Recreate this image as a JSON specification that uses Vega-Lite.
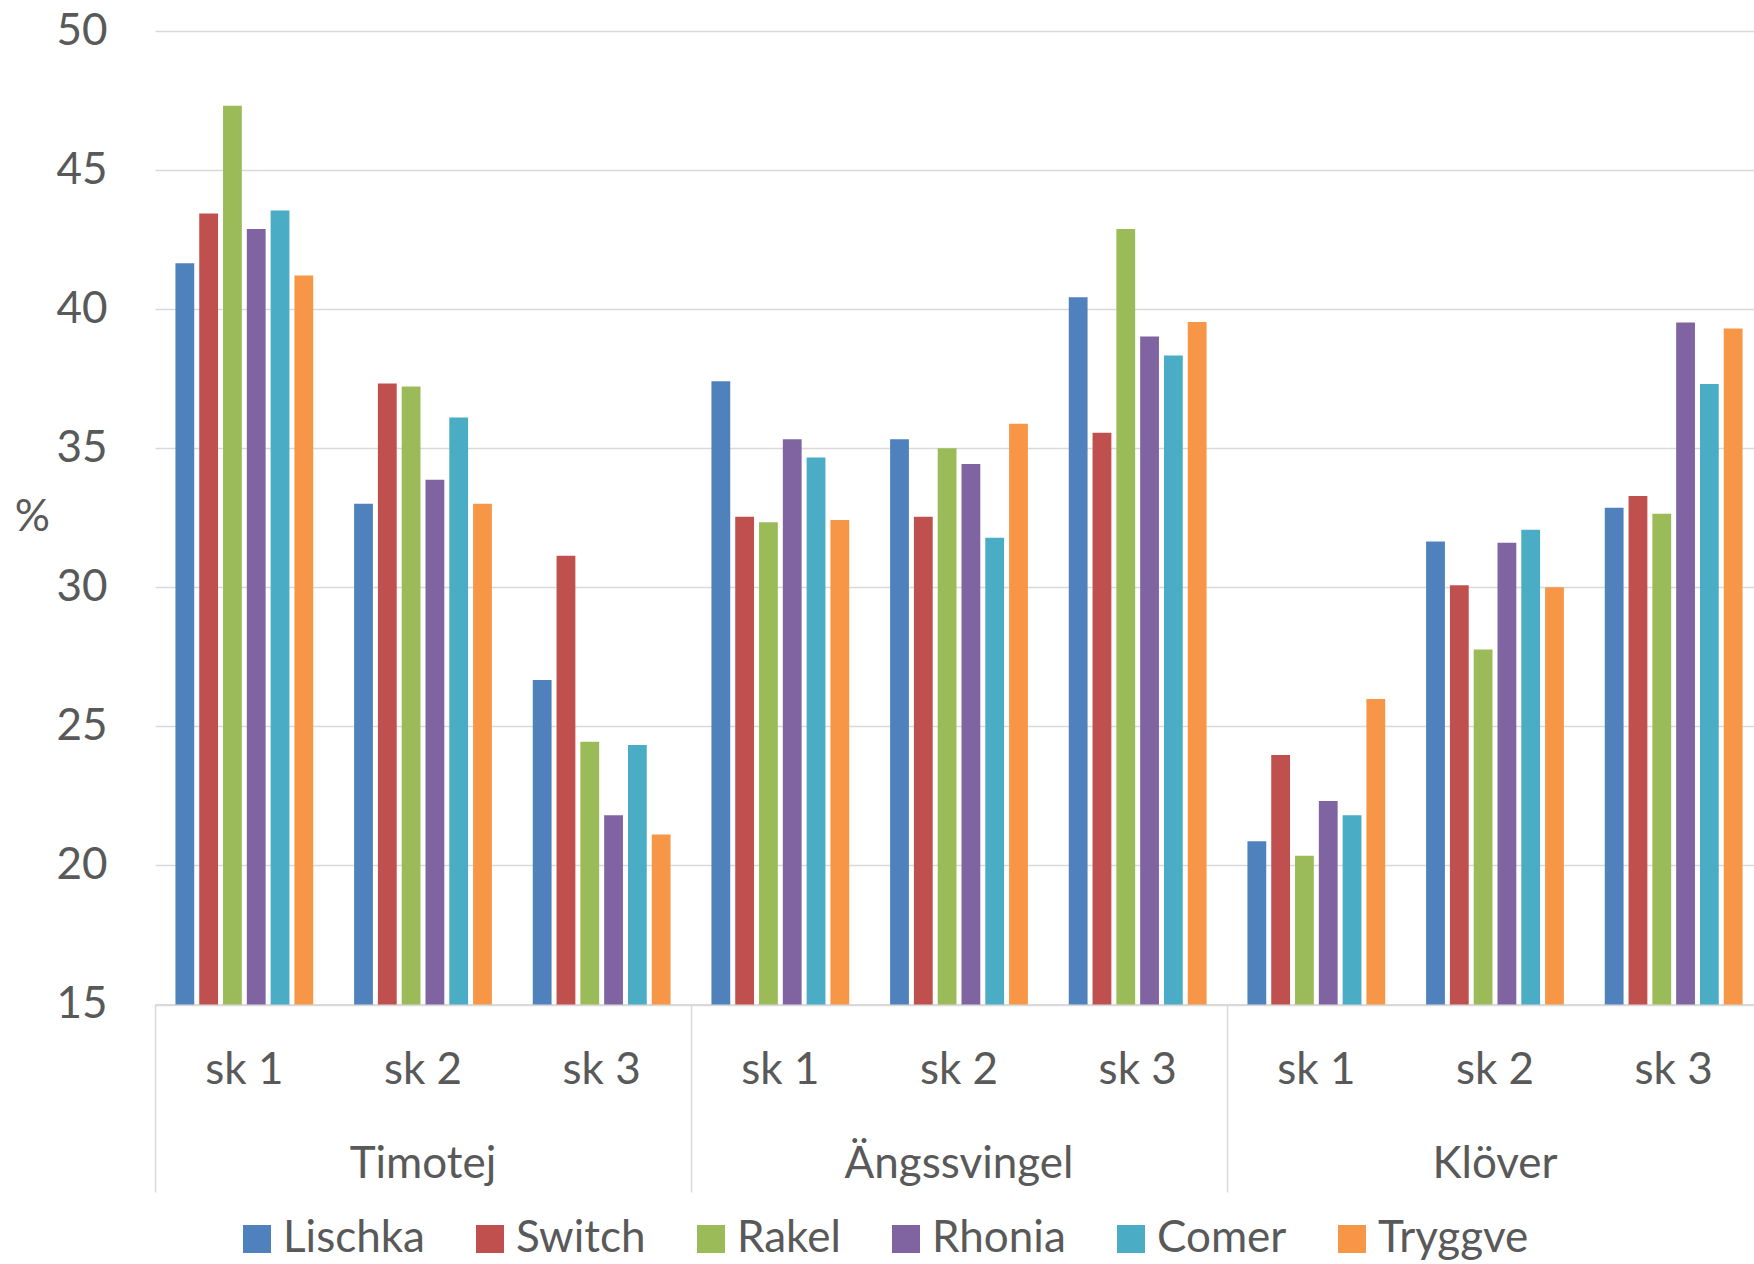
{
  "$schema": "https://vega.github.io/schema/vega-lite/v6.json",
  "width": 1608,
  "height": 973.5,
  "autosize": {"type": "none"},
  "padding": {"left": 155, "top": 31, "right": -9, "bottom": 259.5},
  "background": "white",
  "config": {
    "font": "Lato",
    "view": {"stroke": null},
    "axis": {"labelFont": "Lato", "titleFont": "Lato", "labelColor": "#595959", "titleColor": "#595959"}
  },
  "data": {
    "values": [
      {"group": "Timotej", "key": "Timotej|sk 1", "variety": "Lischka", "value": 41.65},
      {"group": "Timotej", "key": "Timotej|sk 1", "variety": "Switch", "value": 43.44},
      {"group": "Timotej", "key": "Timotej|sk 1", "variety": "Rakel", "value": 47.31},
      {"group": "Timotej", "key": "Timotej|sk 1", "variety": "Rhonia", "value": 42.88},
      {"group": "Timotej", "key": "Timotej|sk 1", "variety": "Comer", "value": 43.55},
      {"group": "Timotej", "key": "Timotej|sk 1", "variety": "Tryggve", "value": 41.21},
      {"group": "Timotej", "key": "Timotej|sk 2", "variety": "Lischka", "value": 33.0},
      {"group": "Timotej", "key": "Timotej|sk 2", "variety": "Switch", "value": 37.33},
      {"group": "Timotej", "key": "Timotej|sk 2", "variety": "Rakel", "value": 37.22},
      {"group": "Timotej", "key": "Timotej|sk 2", "variety": "Rhonia", "value": 33.87},
      {"group": "Timotej", "key": "Timotej|sk 2", "variety": "Comer", "value": 36.1},
      {"group": "Timotej", "key": "Timotej|sk 2", "variety": "Tryggve", "value": 33.0},
      {"group": "Timotej", "key": "Timotej|sk 3", "variety": "Lischka", "value": 26.67},
      {"group": "Timotej", "key": "Timotej|sk 3", "variety": "Switch", "value": 31.13},
      {"group": "Timotej", "key": "Timotej|sk 3", "variety": "Rakel", "value": 24.45},
      {"group": "Timotej", "key": "Timotej|sk 3", "variety": "Rhonia", "value": 21.8},
      {"group": "Timotej", "key": "Timotej|sk 3", "variety": "Comer", "value": 24.33},
      {"group": "Timotej", "key": "Timotej|sk 3", "variety": "Tryggve", "value": 21.11},
      {"group": "Ängssvingel", "key": "Ängssvingel|sk 1", "variety": "Lischka", "value": 37.41},
      {"group": "Ängssvingel", "key": "Ängssvingel|sk 1", "variety": "Switch", "value": 32.54},
      {"group": "Ängssvingel", "key": "Ängssvingel|sk 1", "variety": "Rakel", "value": 32.34},
      {"group": "Ängssvingel", "key": "Ängssvingel|sk 1", "variety": "Rhonia", "value": 35.32},
      {"group": "Ängssvingel", "key": "Ängssvingel|sk 1", "variety": "Comer", "value": 34.67},
      {"group": "Ängssvingel", "key": "Ängssvingel|sk 1", "variety": "Tryggve", "value": 32.42},
      {"group": "Ängssvingel", "key": "Ängssvingel|sk 2", "variety": "Lischka", "value": 35.32},
      {"group": "Ängssvingel", "key": "Ängssvingel|sk 2", "variety": "Switch", "value": 32.54},
      {"group": "Ängssvingel", "key": "Ängssvingel|sk 2", "variety": "Rakel", "value": 35.0},
      {"group": "Ängssvingel", "key": "Ängssvingel|sk 2", "variety": "Rhonia", "value": 34.43},
      {"group": "Ängssvingel", "key": "Ängssvingel|sk 2", "variety": "Comer", "value": 31.78},
      {"group": "Ängssvingel", "key": "Ängssvingel|sk 2", "variety": "Tryggve", "value": 35.88},
      {"group": "Ängssvingel", "key": "Ängssvingel|sk 3", "variety": "Lischka", "value": 40.43},
      {"group": "Ängssvingel", "key": "Ängssvingel|sk 3", "variety": "Switch", "value": 35.56},
      {"group": "Ängssvingel", "key": "Ängssvingel|sk 3", "variety": "Rakel", "value": 42.88},
      {"group": "Ängssvingel", "key": "Ängssvingel|sk 3", "variety": "Rhonia", "value": 39.02},
      {"group": "Ängssvingel", "key": "Ängssvingel|sk 3", "variety": "Comer", "value": 38.33},
      {"group": "Ängssvingel", "key": "Ängssvingel|sk 3", "variety": "Tryggve", "value": 39.54},
      {"group": "Klöver", "key": "Klöver|sk 1", "variety": "Lischka", "value": 20.87},
      {"group": "Klöver", "key": "Klöver|sk 1", "variety": "Switch", "value": 23.97},
      {"group": "Klöver", "key": "Klöver|sk 1", "variety": "Rakel", "value": 20.35},
      {"group": "Klöver", "key": "Klöver|sk 1", "variety": "Rhonia", "value": 22.32},
      {"group": "Klöver", "key": "Klöver|sk 1", "variety": "Comer", "value": 21.8},
      {"group": "Klöver", "key": "Klöver|sk 1", "variety": "Tryggve", "value": 25.98},
      {"group": "Klöver", "key": "Klöver|sk 2", "variety": "Lischka", "value": 31.65},
      {"group": "Klöver", "key": "Klöver|sk 2", "variety": "Switch", "value": 30.07},
      {"group": "Klöver", "key": "Klöver|sk 2", "variety": "Rakel", "value": 27.76},
      {"group": "Klöver", "key": "Klöver|sk 2", "variety": "Rhonia", "value": 31.6},
      {"group": "Klöver", "key": "Klöver|sk 2", "variety": "Comer", "value": 32.07},
      {"group": "Klöver", "key": "Klöver|sk 2", "variety": "Tryggve", "value": 30.0},
      {"group": "Klöver", "key": "Klöver|sk 3", "variety": "Lischka", "value": 32.86},
      {"group": "Klöver", "key": "Klöver|sk 3", "variety": "Switch", "value": 33.28},
      {"group": "Klöver", "key": "Klöver|sk 3", "variety": "Rakel", "value": 32.64},
      {"group": "Klöver", "key": "Klöver|sk 3", "variety": "Rhonia", "value": 39.52},
      {"group": "Klöver", "key": "Klöver|sk 3", "variety": "Comer", "value": 37.31},
      {"group": "Klöver", "key": "Klöver|sk 3", "variety": "Tryggve", "value": 39.3}
    ]
  },
  "layer": [
    {
      "mark": {"type": "bar"},
      "encoding": {
        "x": {
          "field": "key",
          "type": "nominal",
          "sort": null,
          "scale": {"paddingInner": 0, "paddingOuter": 0},
          "axis": {
            "orient": "bottom",
            "title": null,
            "labelAngle": 0,
            "labelExpr": "split(datum.label, '|')[1]",
            "labelFontSize": 44,
            "labelBaseline": "alphabetic",
            "labelPadding": 78.5,
            "ticks": false,
            "grid": false,
            "domainColor": "#d9d9d9",
            "domainWidth": 2
          }
        },
        "xOffset": {
          "field": "variety",
          "type": "nominal",
          "sort": ["Lischka", "Switch", "Rakel", "Rhonia", "Comer", "Tryggve"],
          "scale": {"paddingInner": 0.21, "paddingOuter": 0.859}
        },
        "y": {
          "field": "value",
          "type": "quantitative",
          "scale": {"domain": [15, 50], "zero": false, "nice": false},
          "axis": {
            "title": "%",
            "titleAngle": 0,
            "titleBaseline": "middle",
            "titleFontSize": 44,
            "titleFontWeight": "normal",
            "titlePadding": 24,
            "values": [15, 20, 25, 30, 35, 40, 45, 50],
            "labelFontSize": 44,
            "labelPadding": 48,
            "ticks": false,
            "domain": false,
            "gridColor": "#d9d9d9",
            "gridWidth": 1.5
          }
        },
        "y2": {"datum": 15},
        "color": {
          "field": "variety",
          "type": "nominal",
          "sort": ["Lischka", "Switch", "Rakel", "Rhonia", "Comer", "Tryggve"],
          "scale": {
            "domain": ["Lischka", "Switch", "Rakel", "Rhonia", "Comer", "Tryggve"],
            "range": ["#4F81BD", "#C0504D", "#9BBB59", "#8064A2", "#4BACC6", "#F79646"]
          },
          "legend": {
            "title": null,
            "orient": "none",
            "direction": "horizontal",
            "legendX": 80,
            "legendY": 1186,
            "padding": 0,
            "labelFont": "Lato",
            "labelFontSize": 44,
            "labelColor": "#595959",
            "symbolType": "square",
            "symbolSize": 784,
            "symbolStrokeWidth": 0,
            "symbolOpacity": 1,
            "labelOffset": 4,
            "columnPadding": 43
          }
        }
      }
    },
    {
      "mark": {"type": "bar", "opacity": 0},
      "encoding": {
        "x": {
          "field": "group",
          "type": "nominal",
          "sort": ["Timotej", "Ängssvingel", "Klöver"],
          "scale": {"paddingInner": 0, "paddingOuter": 0},
          "axis": {
            "orient": "bottom",
            "title": null,
            "labelAngle": 0,
            "labelFontSize": 44,
            "labelBaseline": "alphabetic",
            "labelAlign": "center",
            "labelLimit": 0,
            "bandPosition": 0,
            "labelPadding": -14.5,
            "ticks": true,
            "tickSize": 187.5,
            "tickColor": "#d9d9d9",
            "tickWidth": 1.5,
            "domain": false,
            "grid": false
          }
        },
        "y": {"field": "value", "type": "quantitative"}
      }
    }
  ],
  "resolve": {"scale": {"x": "independent"}, "axis": {"x": "independent"}}
}
